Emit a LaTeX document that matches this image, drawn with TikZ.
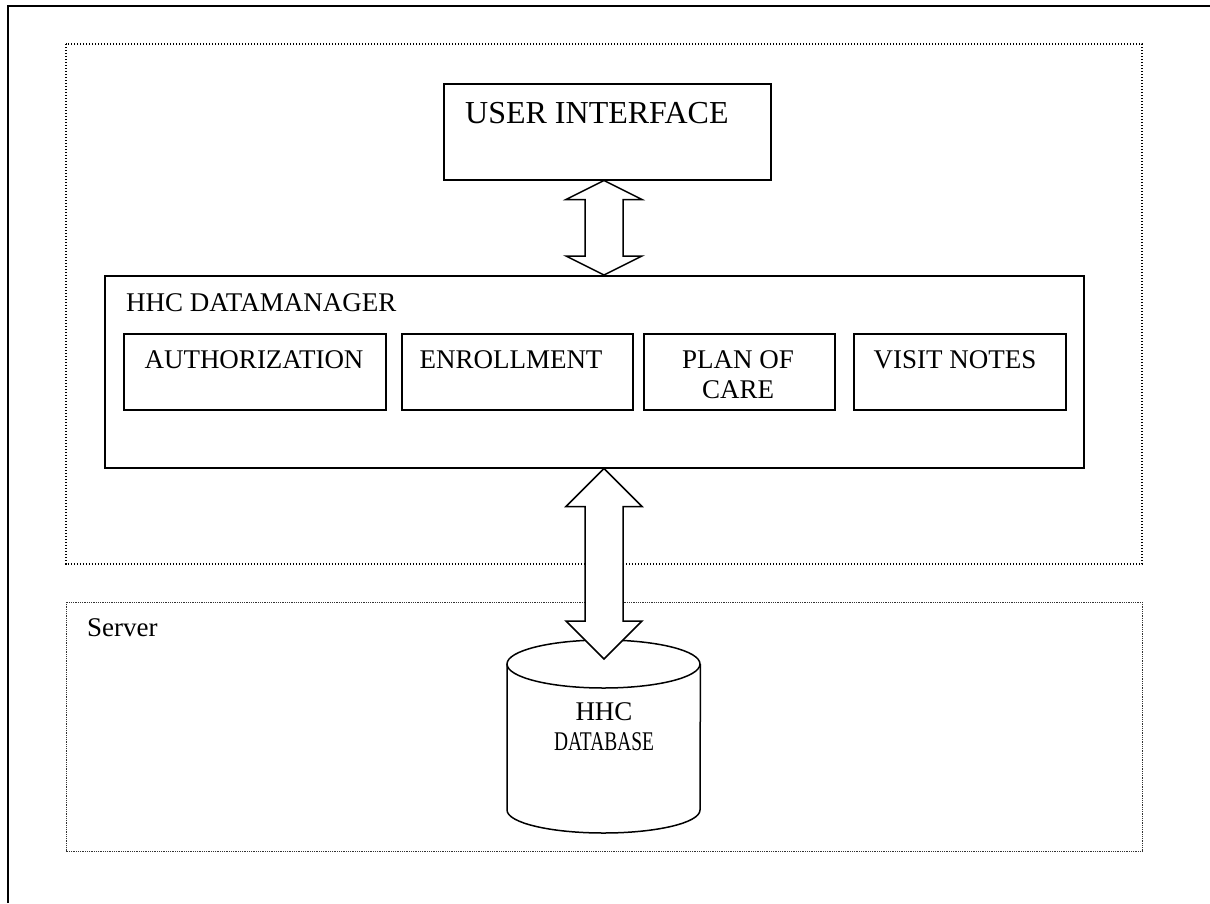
\documentclass[tikz,border=0pt]{standalone}
\usepackage{fontspec}
\setmainfont{Liberation Serif}
\usetikzlibrary{calc}
\tikzset{
  box/.style={draw, line width=1.5pt, rectangle, inner sep=0pt, anchor=north west},
  lbl/.style={inner sep=0pt, font=\fontsize{27pt}{32pt}\selectfont},
  biglbl/.style={inner sep=0pt, font=\fontsize{32pt}{38pt}\selectfont},
  groupbox/.style={line width=1.3pt, dash pattern=on 1.3pt off 1.7pt},
  serverbox/.style={line width=1pt, dash pattern=on 0.9pt off 0.9pt, black!80},
  blockarrow/.style={draw, fill=white, line width=1.5pt, line join=miter},
  frame/.style={line width=2pt}
}
\begin{document}
\begin{tikzpicture}[x=1pt,y=-1pt]
\useasboundingbox (0,0) rectangle (1210,903);
% outer frame (only top and left visible)
\draw[frame] (8,903) -- (8,6) -- (1210,6);
% group boxes
\draw[groupbox] (66,44) rectangle (1142,564);
\draw[serverbox] (66,602) rectangle (1142,851);
\node[lbl, anchor=base west] (serverlbl) at (87,636) {Server};
% user interface
\node[box, minimum width=327pt, minimum height=96pt] (ui) at (443,83) {};
\node[biglbl, anchor=base west] (uilbl) at (465,123) {USER INTERFACE};
% data manager
\node[box, minimum width=979pt, minimum height=192pt] (dm) at (104,275) {};
\node[lbl, anchor=base west] (dmlbl) at (126,311) {HHC DATAMANAGER};
\node[box, minimum width=262pt, minimum height=76pt] (auth) at (123,333) {};
\node[box, minimum width=231pt, minimum height=76pt] (enr) at (401,333) {};
\node[box, minimum width=191pt, minimum height=76pt] (poc) at (643,333) {};
\node[box, minimum width=212pt, minimum height=76pt] (vn) at (853,333) {};
\node[lbl, anchor=base] (authlbl) at (254,368) {AUTHORIZATION};
\node[lbl, anchor=base] (enrlbl) at (511,368) {ENROLLMENT};
\node[lbl, anchor=base] (poclbl1) at (738,368) {PLAN OF};
\node[lbl, anchor=base] (poclbl2) at (738,398) {CARE};
\node[lbl, anchor=base] (vnlbl) at (955,368) {VISIT NOTES};
% database cylinder
\node[inner sep=0pt, minimum width=193pt, minimum height=193pt, anchor=north west] (db) at (507,640) {};
\draw[line width=1.5pt, fill=white] (db.west |- 0,664) -- (db.west |- 0,810)
  arc[start angle=180, end angle=0, x radius=96.5, y radius=23] -- (db.east |- 0,664);
\draw[line width=1.5pt] (603.5,664) ellipse[x radius=96.5, y radius=24];
\node[lbl, anchor=base] (dblbl1) at (604,720) {HHC};
\node[lbl, anchor=base] (dblbl2) at (604,750) {\scalebox{0.72}[1]{DATABASE}};
% arrows
\coordinate (ax) at (604,0);
\coordinate (t1) at (ui.south -| ax);
\coordinate (b1) at (dm.north -| ax);
\draw[blockarrow] (t1) -- ($(t1)+(38,19)$) -- ($(t1)+(19,19)$) -- ($(b1)+(19,-19)$) -- ($(b1)+(38,-19)$)
  -- (b1) -- ($(b1)+(-38,-19)$) -- ($(b1)+(-19,-19)$) -- ($(t1)+(-19,19)$) -- ($(t1)+(-38,19)$) -- cycle;
\coordinate (t2) at (dm.south -| ax);
\coordinate (b2) at ($(db.north -| ax)+(0,19)$);
\draw[blockarrow] (t2) -- ($(t2)+(38,38)$) -- ($(t2)+(19,38)$) -- ($(b2)+(19,-38)$) -- ($(b2)+(38,-38)$)
  -- (b2) -- ($(b2)+(-38,-38)$) -- ($(b2)+(-19,-38)$) -- ($(t2)+(-19,38)$) -- ($(t2)+(-38,38)$) -- cycle;
\end{tikzpicture}
\end{document}
